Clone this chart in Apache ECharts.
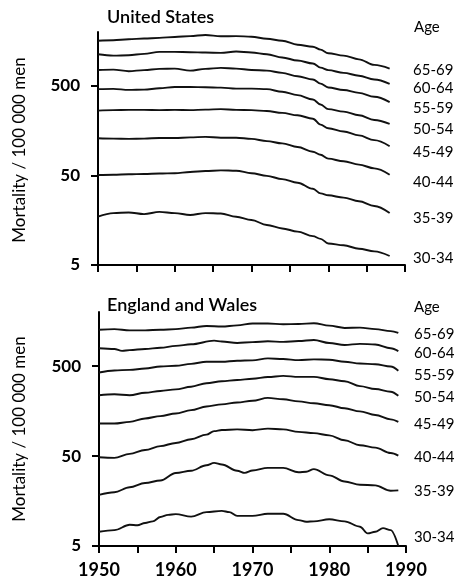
<!DOCTYPE html>
<html>
<head>
<meta charset="utf-8">
<script src="https://cdn.jsdelivr.net/npm/echarts@6/dist/echarts.min.js"></script>
<style>html,body{margin:0;padding:0;background:#fff}#c{width:459px;height:579px}</style>
</head>
<body>
<div id="c"></div>
<script>
// ---- data ----
const panelTitles = ['United States', 'England and Wales'];
const ageGroups = ['65-69', '60-64', '55-59', '50-54', '45-49', '40-44', '35-39', '30-34'];
const yTickValues = [5, 50, 500];
const xLabelYears = [1950, 1960, 1970, 1980, 1990];

const usYears = [1950,1952,1954,1956,1958,1960,1962,1964,1966,1968,1970,1972,1974,1976,1978,1979,1980,1982,1984,1986,1988];
const us6569 = [1600,1620,1660,1690,1720,1760,1800,1850,1790,1800,1770,1680,1600,1440,1370,1270,1160,1090,990,858,780];
const us6064 = [1130,1090,1100,1140,1200,1200,1190,1180,1170,1210,1180,1130,1040,960,890,800,750,700,650,590,528];
const us5559 = [754,760,730,750,775,780,740,775,795,780,754,740,700,640,590,530,480,450,418,378,330];
const us5054 = [460,463,451,455,470,487,487,483,478,466,466,460,430,395,352,310,275,258,235,208,188];
const us4549 = [265,268,270,270,268,270,268,272,275,270,268,262,250,235,215,185,168,155,140,124,106];
const us4044 = [130,129,128,129,131,131,133,135,132,132,128,121,114,104,92,85,77,72,66,60,51];
const us3539 = [50.5,51,51.5,52,52.5,53,54.6,56,57,56.5,53,49.5,45.5,41.5,35.5,31.5,30,28.3,25.8,22.8,19];
const us3034 = [17.3,19.0,19.3,18.5,19.6,19.0,18.1,19.0,18.8,17.3,15.9,14.0,12.8,11.8,10.5,9.8,8.7,8.3,7.6,7.1,6.3];

const ew6569 = [[1950,1270],[1952,1290],[1954,1250],[1956,1250],[1958,1270],[1960,1290],[1962,1340],[1964,1400],[1966,1380],[1968,1420],[1970,1490],[1972,1490],[1974,1460],[1976,1470],[1978,1500],[1980,1410],[1982,1330],[1984,1340],[1986,1290],[1988,1225],[1989,1170]];
const ew6064 = [[1950,790],[1952,775],[1953,740],[1954,754],[1956,775],[1958,800],[1960,840],[1962,875],[1965,960],[1966,940],[1968,905],[1970,925],[1972,945],[1974,930],[1976,950],[1978,976],[1980,905],[1982,860],[1984,885],[1986,870],[1988,790],[1989,735]];
const ew5559 = [[1950,425],[1952,448],[1954,455],[1956,470],[1958,495],[1960,505],[1962,530],[1964,560],[1966,560],[1968,575],[1970,580],[1972,610],[1974,600],[1976,583],[1978,595],[1980,590],[1982,560],[1984,535],[1986,525],[1988,495],[1989,445]];
const ew5054 = [[1950,237],[1952,243],[1954,237],[1956,253],[1958,265],[1960,276],[1962,295],[1964,323],[1966,340],[1968,350],[1970,362],[1972,378],[1974,390],[1976,380],[1978,380],[1980,358],[1982,340],[1984,300],[1986,278],[1988,260],[1989,234]];
const ew4549 = [[1950,115],[1952,115],[1954,120],[1956,131],[1958,139],[1960,149],[1962,162],[1964,178],[1966,188],[1968,197],[1970,206],[1972,222],[1974,214],[1976,203],[1978,193],[1980,184],[1982,170],[1984,157],[1986,143],[1988,128],[1989,120]];
const ew4044 = [[1950,48.5],[1952,47.8],[1954,52.9],[1956,58.5],[1958,64.5],[1960,70],[1962,77],[1964,86.6],[1965,94.6],[1966,97.3],[1968,99],[1970,97],[1972,101],[1974,99],[1976,93],[1978,90],[1980,85],[1982,75],[1984,66],[1986,62],[1988,54],[1989,50.6]];
const ew3539 = [[1950,18.5],[1952,19.8],[1954,22.5],[1956,25.1],[1958,26.8],[1960,32.4],[1962,34.4],[1964,39.5],[1965,42],[1966,40.3],[1968,34.4],[1969,32.5],[1970,34.5],[1972,37],[1974,37],[1976,33],[1977,33.5],[1978,35.8],[1980,30.5],[1982,26.1],[1984,24],[1986,23.6],[1988,20.6],[1989,20.8]];
const ew3034 = [[1950,7.2],[1952,7.5],[1954,8.6],[1955,8.5],[1956,9.0],[1957,9.4],[1958,10.5],[1959,11.1],[1960,11.3],[1962,10.6],[1964,11.9],[1966,12.3],[1967,11.9],[1968,10.8],[1970,10.8],[1972,11.4],[1974,11.4],[1976,9.7],[1977,9.3],[1978,9.4],[1980,9.9],[1982,9.4],[1984,8.2],[1985,6.9],[1986,7.2],[1987,7.9],[1988,7.5],[1989,5]];

// ---- chart ----
const usSeriesValues = [us6569, us6064, us5559, us5054, us4549, us4044, us3539, us3034];
const ewSeriesValues = [ew6569, ew6064, ew5559, ew5054, ew4549, ew4044, ew3539, ew3034];

const FONT = 'Lato, "Noto Sans", sans-serif';
const chart = echarts.init(document.getElementById('c'), null, {renderer: 'canvas'});

function xAxis(gridIndex, showLabels) {
  return {
    type: 'value', gridIndex: gridIndex, min: 1950, max: 1990, interval: 5,
    axisLine: {show: true, lineStyle: {color: '#000', width: 2}},
    axisTick: {show: true, length: 7, lineStyle: {color: '#000', width: 2}},
    axisLabel: {show: showLabels, customValues: xLabelYears, margin: 15,
      formatter: function (v) { return String(v); },
      fontFamily: FONT, fontSize: 18, fontWeight: 'bold', color: '#000'},
    splitLine: {show: false}
  };
}
function yAxis(gridIndex) {
  return {
    type: 'log', logBase: 10, gridIndex: gridIndex, min: 5, max: 2000,
    axisLine: {show: true, lineStyle: {color: '#000', width: 2}},
    axisTick: {show: true, length: 7, customValues: yTickValues, lineStyle: {color: '#000', width: 2}},
    axisLabel: {show: true, customValues: yTickValues, margin: 18,
      formatter: function (v) { return String(v); },
      fontFamily: FONT, fontSize: 17, fontWeight: 'bold', color: '#000'},
    splitLine: {show: false}, minorTick: {show: false}
  };
}

const series = [];
usSeriesValues.forEach(function (vals, i) {
  series.push({
    name: 'US ' + ageGroups[i], type: 'line', xAxisIndex: 0, yAxisIndex: 0,
    data: usYears.map(function (y, k) { return [y, vals[k]]; }),
    showSymbol: false, smooth: 0.35, smoothMonotone: 'x',
    lineStyle: {color: '#111', width: 1.9}, silent: true
  });
});
ewSeriesValues.forEach(function (vals, i) {
  series.push({
    name: 'EW ' + ageGroups[i], type: 'line', xAxisIndex: 1, yAxisIndex: 1,
    data: vals, showSymbol: false, smooth: 0.35, smoothMonotone: 'x',
    lineStyle: {color: '#111', width: 1.9}, silent: true
  });
});

const usLabelY = [70, 88, 108, 129, 152, 182, 218, 258];
const ewLabelY = [334, 353, 375, 397, 424, 457, 491, 537];
const graphics = [];
function txt(x, y, text, size, weight, align, rot) {
  graphics.push({type: 'text', x: x, y: y, rotation: rot || 0, silent: true,
    style: {text: text, fill: '#000', font: (weight || 'normal') + ' ' + size + 'px ' + FONT,
      align: align || 'left', verticalAlign: 'middle'}});
}
txt(107, 17, panelTitles[0], 18, '600');
txt(107, 305, panelTitles[1], 18, '600');
txt(414, 27, 'Age', 15);
txt(414, 307, 'Age', 15);
ageGroups.forEach(function (g, i) {
  txt(413, usLabelY[i], g, 15);
  txt(414, ewLabelY[i], g, 15);
});
txt(20, 150, 'Mortality / 100 000 men', 17, 'normal', 'center', Math.PI / 2);
txt(20, 429, 'Mortality / 100 000 men', 17, 'normal', 'center', Math.PI / 2);

chart.setOption({
  animation: false,
  backgroundColor: '#fff',
  grid: [
    {left: 98, top: 32, width: 307, height: 233},
    {left: 99, top: 312, width: 307, height: 234}
  ],
  xAxis: [xAxis(0, false), xAxis(1, true)],
  yAxis: [yAxis(0), yAxis(1)],
  series: series,
  graphic: graphics
});
</script>
</body>
</html>
